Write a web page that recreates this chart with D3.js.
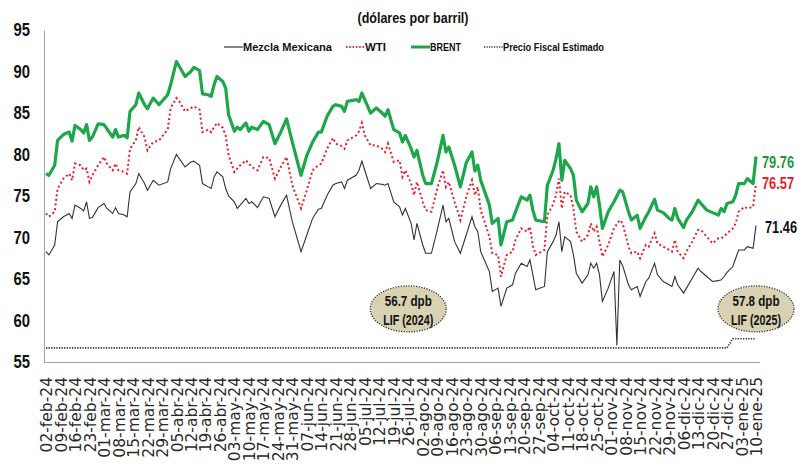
<!DOCTYPE html>
<html>
<head>
<meta charset="utf-8">
<script src="https://cdn.jsdelivr.net/npm/d3@7/dist/d3.min.js"></script>
<style>
  body { margin: 0; background: #fff; }
  svg { display: block; }
  .narrow { font-family: "Liberation Sans Narrow", "Arial Narrow", "Liberation Sans", sans-serif; font-weight: bold; }
</style>
</head>
<body>
<svg id="chart" width="808" height="465"></svg>
<script>
// dia habil (0 = 02-feb-24 ... 245 = 10-ene-25)
var dias = [
  0,1,3,4,6,8,9,10,12,13,
  14,15,16,18,20,21,23,24,25,27,
  28,29,31,32,34,35,37,39,42,43,
  45,46,48,50,51,53,54,56,57,58,
  59,61,62,63,65,66,67,69,70,71,
  73,75,77,79,81,83,85,88,90,92,
  94,95,97,99,100,102,103,104,107,108,
  109,110,112,114,116,117,118,120,122,123,
  124,126,127,128,130,131,133,135,137,138,
  139,141,143,145,147,148,149,150,153,154,
  156,157,159,161,162,164,166,167,168,169,
  172,173,175,176,177,178,179,181,182,183,
  185,187,188,189,190,191,192,194,196,197,
  198,199,201,202,204,205,207,208,210,211,
  213,215,216,217,218,220,221,223,225,226,
  228,230,232,233,234,235,237,238,239,241,
  242,244,245
];

var mezcla = [
  68.3,67.9,69.1,71.9,72.5,72.9,72.3,73.9,73.5,73.2,
  74.3,72.3,72.4,73.6,74.1,73.5,72.9,73.6,72.9,72.7,
  72.5,75.5,76.5,77.7,76.5,75.7,76.9,76.3,76.7,78.3,
  80.0,79.5,78.5,79.1,79.2,78.7,76.5,76.1,75.9,77.3,
  77.9,77.3,75.9,75.0,74.3,73.5,73.9,74.7,74.1,74.3,
  73.6,74.9,74.7,72.5,73.9,75.1,71.9,68.3,70.3,72.3,
  73.4,73.5,75.1,76.3,76.5,76.7,75.9,76.9,77.5,78.1,
  79.2,78.1,75.9,76.5,76.4,76.3,76.5,74.3,73.7,72.7,
  73.5,71.7,69.7,71.7,69.1,68.1,68.1,70.9,73.9,71.9,
  72.3,69.5,68.1,70.3,72.5,71.3,70.7,68.3,65.9,63.5,
  63.9,61.7,63.9,64.3,65.7,66.9,66.5,67.3,65.5,63.7,
  64.1,68.3,69.5,70.3,71.9,68.3,70.1,69.5,67.9,65.7,
  64.5,65.5,66.9,66.3,66.9,65.5,62.3,63.9,65.9,57.0,
  67.3,66.6,64.3,63.7,64.1,62.9,64.7,65.1,66.9,65.5,
  64.7,64.3,64.1,65.3,64.3,63.3,63.9,65.1,66.3,65.9,
  65.3,64.7,64.8,64.9,65.3,65.8,66.5,67.5,68.5,68.5,
  68.9,68.7,71.46
];

var wti = [
  72.9,72.5,73.1,75.9,77.1,77.7,76.9,78.9,78.7,78.1,
  78.3,76.7,77.5,78.7,79.7,78.9,78.1,78.9,78.1,77.9,
  77.7,80.7,81.7,83.3,82.1,80.5,81.5,81.7,83.0,85.6,
  86.8,86.4,85.2,85.6,85.8,85.4,82.7,83.0,82.7,83.3,
  83.8,83.2,82.3,79.9,77.9,78.3,78.7,79.3,78.9,78.5,
  78.1,79.7,79.6,77.1,78.5,79.7,76.3,73.5,75.7,78.1,
  78.7,78.9,80.7,82.0,81.3,81.0,80.7,81.7,82.3,82.8,
  83.8,82.3,81.1,81.1,80.7,80.3,81.3,79.1,79.3,77.3,
  78.1,76.5,75.1,76.7,74.3,73.3,73.1,75.9,78.1,76.1,
  76.7,74.3,72.1,74.9,76.9,75.1,76.1,73.3,70.1,68.1,
  67.9,65.3,67.9,68.3,69.7,71.1,70.7,71.3,69.0,67.9,
  68.5,72.7,74.0,75.1,77.1,73.5,75.5,75.1,73.5,70.7,
  69.5,70.3,71.7,70.7,71.3,69.5,67.7,69.1,71.1,71.6,
  72.1,71.7,68.9,68.1,68.3,67.5,69.1,68.9,70.5,69.3,
  68.9,68.5,68.3,69.7,68.3,67.5,68.3,69.5,70.9,70.9,
  70.1,69.3,69.9,69.9,70.1,70.5,71.1,71.7,73.1,73.7,
  73.5,73.7,76.57
];

var brent = [
  77.7,77.5,78.7,81.7,82.4,82.7,81.6,83.5,83.0,82.6,
  83.6,81.7,82.1,83.7,83.6,83.1,82.1,83.0,82.1,82.3,
  82.0,85.2,86.0,87.4,86.0,85.5,86.8,86.0,87.2,88.4,
  91.2,90.6,89.4,90.0,90.5,90.1,87.3,87.2,87.0,88.4,
  89.4,88.8,88.0,84.8,82.8,83.3,83.0,83.8,82.8,83.3,
  83.0,84.0,83.6,81.3,82.7,84.3,81.5,77.5,79.9,81.5,
  82.7,82.7,84.6,85.8,86.0,85.8,85.2,86.4,86.6,86.4,
  87.4,86.6,85.0,85.6,85.0,84.6,85.4,83.0,82.6,81.5,
  82.3,80.7,79.7,80.5,77.5,76.5,76.5,79.1,82.3,80.3,
  80.9,78.7,76.1,79.0,80.3,78.0,78.7,76.9,73.9,71.7,
  72.3,69.1,71.9,72.1,73.1,74.9,74.5,75.1,73.3,72.1,
  71.9,76.3,78.1,79.5,81.3,76.9,79.3,78.3,77.5,74.5,
  73.1,74.1,76.1,74.9,76.1,73.9,71.1,73.1,74.3,75.0,
  75.7,75.5,73.1,72.1,72.7,71.1,72.5,73.1,74.6,73.3,
  73.0,72.3,72.1,73.5,72.3,71.2,72.1,73.1,74.5,74.1,
  73.3,73.0,72.7,73.5,73.1,74.1,74.3,75.1,76.5,76.5,
  77.1,76.5,79.76
];

// precio fiscal estimado (LIF 2024 -> LIF 2025)
var fiscalDias = [0, 235, 237, 245];
var fiscal = [56.7, 56.7, 57.8, 57.8];

var etiquetas = [
  "02-feb-24","09-feb-24","16-feb-24","23-feb-24",
  "01-mar-24","08-mar-24","15-mar-24","22-mar-24","29-mar-24",
  "05-abr-24","12-abr-24","19-abr-24","26-abr-24",
  "03-may-24","10-may-24","17-may-24","24-may-24","31-may-24",
  "07-jun-24","14-jun-24","21-jun-24","28-jun-24",
  "05-jul-24","12-jul-24","19-jul-24","26-jul-24",
  "02-ago-24","09-ago-24","16-ago-24","23-ago-24","30-ago-24",
  "06-sep-24","13-sep-24","20-sep-24","27-sep-24",
  "04-oct-24","11-oct-24","18-oct-24","25-oct-24",
  "01-nov-24","08-nov-24","15-nov-24","22-nov-24","29-nov-24",
  "06-dic-24","13-dic-24","20-dic-24","27-dic-24",
  "03-ene-25","10-ene-25"
];

var yTicks = [55, 60, 65, 70, 75, 80, 85, 90, 95];

var notas = [
  {dia: 125, valor: 61.4, l1: "56.7 dpb", l2: "LIF (2024)"},
  {dia: 245, valor: 61.4, l1: "57.8 dpb", l2: "LIF (2025)"}
];

var colorBrent = "#1ea64a",
    colorWti = "#e3202c",
    colorMezcla = "#333333";

var svg = d3.select("svg#chart");

var x = d3.scaleLinear().domain([0, 245]).range([46, 756]);
var y = d3.scaleLinear().domain([55, 95]).range([362, 30]);

//build rows for each series
function serie(vals) {
  return dias.map(function(d, i) { return [d, vals[i]]; });
}
var line = d3.line()
    .x(function(d) { return x(d[0]); })
    .y(function(d) { return y(d[1]); });

// condensed look: squeeze bold text to a given width
function squeeze(sel, w) {
  sel.attr("textLength", w).attr("lengthAdjust", "spacingAndGlyphs");
}

// title
svg.append("text")
    .attr("class", "narrow")
    .attr("x", 413).attr("y", 23)
    .attr("text-anchor", "middle")
    .attr("font-size", 14.5)
    .attr("fill", "#111")
    .text("(dólares por barril)")
    .call(squeeze, 111);

// legend
var legend = [
  {label: "Mezcla Mexicana", color: colorMezcla, w: 1.2, dash: null, x: 224, tw: 89},
  {label: "WTI", color: colorWti, w: 1.8, dash: "1.5,1.8", x: 346, tw: 21},
  {label: "BRENT", color: colorBrent, w: 3, dash: null, x: 411, tw: 31},
  {label: "Precio Fiscal Estimado", color: "#333", w: 1.4, dash: "1.2,1.3", x: 484, tw: 101}
];
var lg = svg.append("g").selectAll("g").data(legend).enter().append("g")
    .attr("transform", function(d) { return "translate(" + d.x + ",47)"; });
lg.append("line")
    .attr("x1", 0).attr("x2", 19).attr("y1", 0).attr("y2", 0)
    .attr("stroke", function(d) { return d.color; })
    .attr("stroke-width", function(d) { return d.w; })
    .attr("stroke-dasharray", function(d) { return d.dash; });
lg.append("text")
    .attr("class", "narrow")
    .attr("x", 19).attr("y", 4)
    .attr("font-size", 11.5)
    .attr("fill", "#111")
    .attr("textLength", function(d) { return d.tw; })
    .attr("lengthAdjust", "spacingAndGlyphs")
    .text(function(d) { return d.label; });

// y axis
var yAxis = svg.append("g")
    .attr("transform", "translate(44,0)")
    .call(d3.axisLeft(y).tickValues(yTicks).tickSize(0).tickPadding(14));
yAxis.select(".domain").attr("stroke", "#a6a6a6");
yAxis.selectAll("text")
    .attr("class", "narrow")
    .attr("font-size", 18)
    .attr("fill", "#111")
    .call(squeeze, 16.5);

// x axis
var xAxis = svg.append("g")
    .attr("transform", "translate(0,362)")
    .call(d3.axisBottom(x)
      .tickValues(d3.range(0, 246, 5))
      .tickSize(0)
      .tickFormat(function(d) { return etiquetas[d / 5]; }));
xAxis.select(".domain").attr("stroke", "#a6a6a6").attr("d", "M44,0.5H760");
xAxis.selectAll("text")
    .attr("font-family", "DejaVu Sans, sans-serif")
    .attr("font-size", 15.5)
    .attr("fill", "#2a2a2a")
    .attr("text-anchor", "end")
    .attr("transform", "rotate(-90)")
    .attr("x", -15)
    .attr("y", 0)
    .attr("dy", "0.36em");

// precio fiscal
svg.append("path")
    .datum(fiscalDias.map(function(d, i) { return [d, fiscal[i]]; }))
    .attr("fill", "none")
    .attr("stroke", "#333")
    .attr("stroke-width", 1.6)
    .attr("stroke-dasharray", "1.3,1.3")
    .attr("d", line);

// series
svg.append("path")
    .datum(serie(mezcla))
    .attr("fill", "none")
    .attr("stroke", colorMezcla)
    .attr("stroke-width", 1.1)
    .attr("d", line);

svg.append("path")
    .datum(serie(wti))
    .attr("fill", "none")
    .attr("stroke", colorWti)
    .attr("stroke-width", 2)
    .attr("stroke-dasharray", "2,2.6")
    .attr("d", line);

svg.append("path")
    .datum(serie(brent))
    .attr("fill", "none")
    .attr("stroke", colorBrent)
    .attr("stroke-width", 3.2)
    .attr("stroke-linejoin", "round")
    .attr("d", line);

// end values
var finales = [
  {v: brent[brent.length - 1], color: "#1a9a3c", dx: 6, dy: 6},
  {v: wti[wti.length - 1], color: colorWti, dx: 6, dy: 0},
  {v: mezcla[mezcla.length - 1], color: "#111", dx: 9, dy: 2}
];
svg.append("g").selectAll("text").data(finales).enter().append("text")
    .attr("class", "narrow")
    .attr("x", function(d) { return x(245) + d.dx; })
    .attr("y", function(d) { return y(d.v) + d.dy; })
    .attr("dy", "0.35em")
    .attr("font-size", 16)
    .attr("fill", function(d) { return d.color; })
    .text(function(d) { return d3.format(".2f")(d.v); })
    .call(squeeze, 32);

// LIF annotations
var nota = svg.append("g").selectAll("g").data(notas).enter().append("g")
    .attr("transform", function(d) { return "translate(" + x(d.dia) + "," + y(d.valor) + ")"; });
nota.append("ellipse")
    .attr("rx", 38).attr("ry", 23)
    .attr("fill", "#d8d2b2")
    .attr("stroke", "#333")
    .attr("stroke-width", 1.3)
    .attr("stroke-dasharray", "1.2,1.4");
nota.append("text")
    .attr("class", "narrow")
    .attr("text-anchor", "middle")
    .attr("y", -3)
    .attr("font-size", 15)
    .attr("fill", "#111")
    .text(function(d) { return d.l1; })
    .call(squeeze, 47);
nota.append("text")
    .attr("class", "narrow")
    .attr("text-anchor", "middle")
    .attr("y", 16)
    .attr("font-size", 15)
    .attr("fill", "#111")
    .text(function(d) { return d.l2; })
    .call(squeeze, 50);
</script>
</body>
</html>
